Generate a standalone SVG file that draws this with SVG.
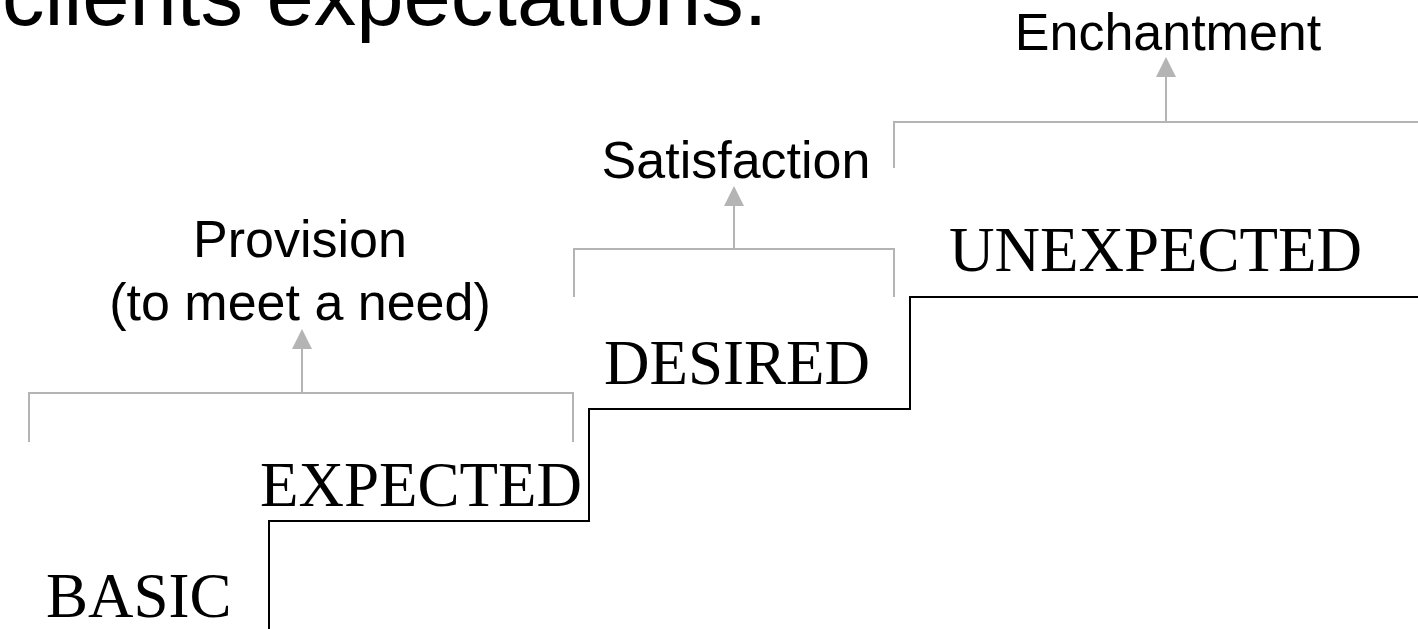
<svg xmlns="http://www.w3.org/2000/svg" width="1418" height="629" viewBox="0 0 1418 629">
  <defs>
    <style>
      .title { font-family: "Liberation Sans", Arial, sans-serif; font-size: 85px; fill: #000; }
      .goal { font-family: "Liberation Sans", Arial, sans-serif; font-size: 52px; fill: #000; text-anchor: middle; }
      .level { font-family: "Liberation Serif", "Times New Roman", serif; font-size: 63px; fill: #000; }
      .bracket { fill: none; stroke: #b4b4b4; stroke-width: 2; }
      .stair { fill: none; stroke: #000; stroke-width: 2; }
    </style>
    <marker id="arrowhead" markerWidth="20" markerHeight="20" refX="0" refY="10" orient="auto" markerUnits="userSpaceOnUse" viewBox="0 0 20 20">
      <path d="M0,0 L20,10 L0,20 Z" fill="#b4b4b4"/>
    </marker>
  </defs>
  <rect width="1418" height="629" fill="#fff"/>

  <text class="title" x="2" y="25">clients expectations.</text>

  <!-- staircase -->
  <g id="connectors">
    <path class="stair" d="M269,629 V521 H589 V409 H910 V297 H1418"/>
    <path class="bracket" d="M29,442 V393 H573 V442"/>
    <path class="bracket" d="M302,393 V349" marker-end="url(#arrowhead)"/>
    <path class="bracket" d="M574,297 V249 H894 V297"/>
    <path class="bracket" d="M734,249 V206" marker-end="url(#arrowhead)"/>
    <path class="bracket" d="M894,168 V122 H1418"/>
    <path class="bracket" d="M1166,122 V77" marker-end="url(#arrowhead)"/>
  </g>

  <g id="basic"><text class="level" x="46" y="617">BASIC</text></g>
  <g id="expected"><text class="level" x="260" y="506">EXPECTED</text></g>
  <g id="desired"><text class="level" x="604" y="384">DESIRED</text></g>
  <g id="unexpected"><text class="level" x="949" y="271">UNEXPECTED</text></g>

  <g id="provision">
    <text class="goal" x="300" y="257">Provision</text>
    <text class="goal" x="300" y="320">(to meet a need)</text>
  </g>
  <g id="satisfaction"><text class="goal" x="736" y="178">Satisfaction</text></g>
  <g id="enchantment"><text class="goal" x="1168" y="50">Enchantment</text></g>
</svg>
